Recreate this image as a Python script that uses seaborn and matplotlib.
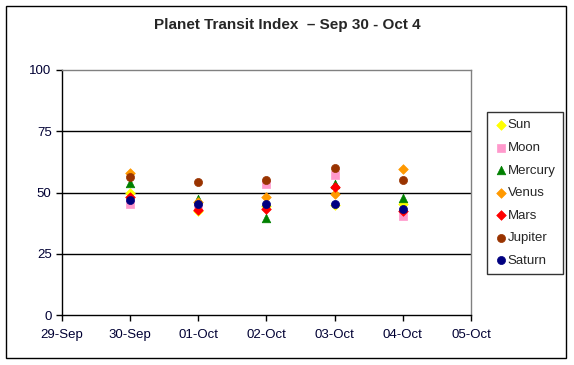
import pandas as pd
import matplotlib
matplotlib.use("Agg")
import matplotlib.pyplot as plt
import matplotlib.dates as mdates
from matplotlib.patches import Rectangle
import seaborn as sns

# Data
dates = ["2008-09-30", "2008-10-01", "2008-10-02", "2008-10-03", "2008-10-04"]
sun = [49.7, 42.5, 44.5, 45.0, 45.2]
moon = [45.2, 44.0, 53.3, 57.1, 40.3]
mercury = [53.7, 47.2, 39.7, 53.3, 47.6]
venus = [58.1, 46.3, 48.0, 49.4, 59.7]
mars = [48.3, 42.9, 43.1, 52.1, 42.6]
jupiter = [56.2, 54.2, 55.0, 59.9, 55.0]
saturn = [46.9, 45.3, 45.3, 45.3, 43.1]

planets = ["Sun", "Moon", "Mercury", "Venus", "Mars", "Jupiter", "Saturn"]
series = [sun, moon, mercury, venus, mars, jupiter, saturn]
colors = ["#FFFF00", "#FF99CC", "#008000", "#FF9900", "#FF0000", "#993300", "#000080"]
markers = ["D", "s", "^", "D", "D", "o", "o"]
sizes = [24, 32, 38, 24, 24, 34, 34]

rows = []
for name, vals in zip(planets, series):
    for d, v in zip(dates, vals):
        rows.append({"date": pd.Timestamp(d), "index": v, "planet": name})
df = pd.DataFrame(rows)

sns.set_style("white")
plt.rcParams["font.family"] = ["Liberation Sans", "DejaVu Sans"]

fig = plt.figure(figsize=(5.74, 3.65), dpi=100)
ax = fig.add_axes([62 / 574, 50 / 365, 409 / 574, 245 / 365])

# outer chart border
fig.patches.append(Rectangle((6 / 574, 7 / 365), 560 / 574, 352 / 365, transform=fig.transFigure,
                             fill=False, edgecolor="black", linewidth=1))

for name, col, mk, sz in zip(planets, colors, markers, sizes):
    sub = df[df["planet"] == name]
    sns.scatterplot(data=sub, x="date", y="index", color=col, marker=mk, s=sz,
                    edgecolor=col, linewidth=0.5, ax=ax, label=name, zorder=3)

for y in [25, 50, 75]:
    ax.axhline(y, color="black", linewidth=1, zorder=1)

ax.set_xlim(pd.Timestamp("2008-09-29"), pd.Timestamp("2008-10-05"))
ax.set_ylim(0, 100)
ax.set_yticks([0, 25, 50, 75, 100])
ax.xaxis.set_major_locator(mdates.DayLocator())
ax.xaxis.set_major_formatter(mdates.DateFormatter("%d-%b"))
ax.set_xlabel("")
ax.set_ylabel("")

for side in ["left", "bottom"]:
    ax.spines[side].set_color("black")
    ax.spines[side].set_linewidth(1)
for side in ["top", "right"]:
    ax.spines[side].set_color("#808080")
    ax.spines[side].set_linewidth(1)

ax.tick_params(axis="both", which="major", direction="out", length=4, width=1,
               color="black", labelsize=9.5, labelcolor="#000033", bottom=True, left=True)
ax.tick_params(axis="x", pad=6)

fig.suptitle("Planet Transit Index  \u2013 Sep 30 - Oct 4", x=287 / 574, y=0.952,
             fontsize=11, fontweight="bold")

ax.get_legend().remove()
handles, labels = ax.get_legend_handles_labels()
leg = fig.legend(handles, labels, loc="upper right", bbox_to_anchor=(563 / 574, 1 - 112 / 365),
                 frameon=True, fancybox=False, edgecolor="black", fontsize=9.5,
                 handletextpad=0.05, labelspacing=0.78, borderpad=0.55, handlelength=1.0,
                 borderaxespad=0, markerscale=1.0)
leg.get_frame().set_linewidth(1)

fig.savefig("out.png", dpi=100)
